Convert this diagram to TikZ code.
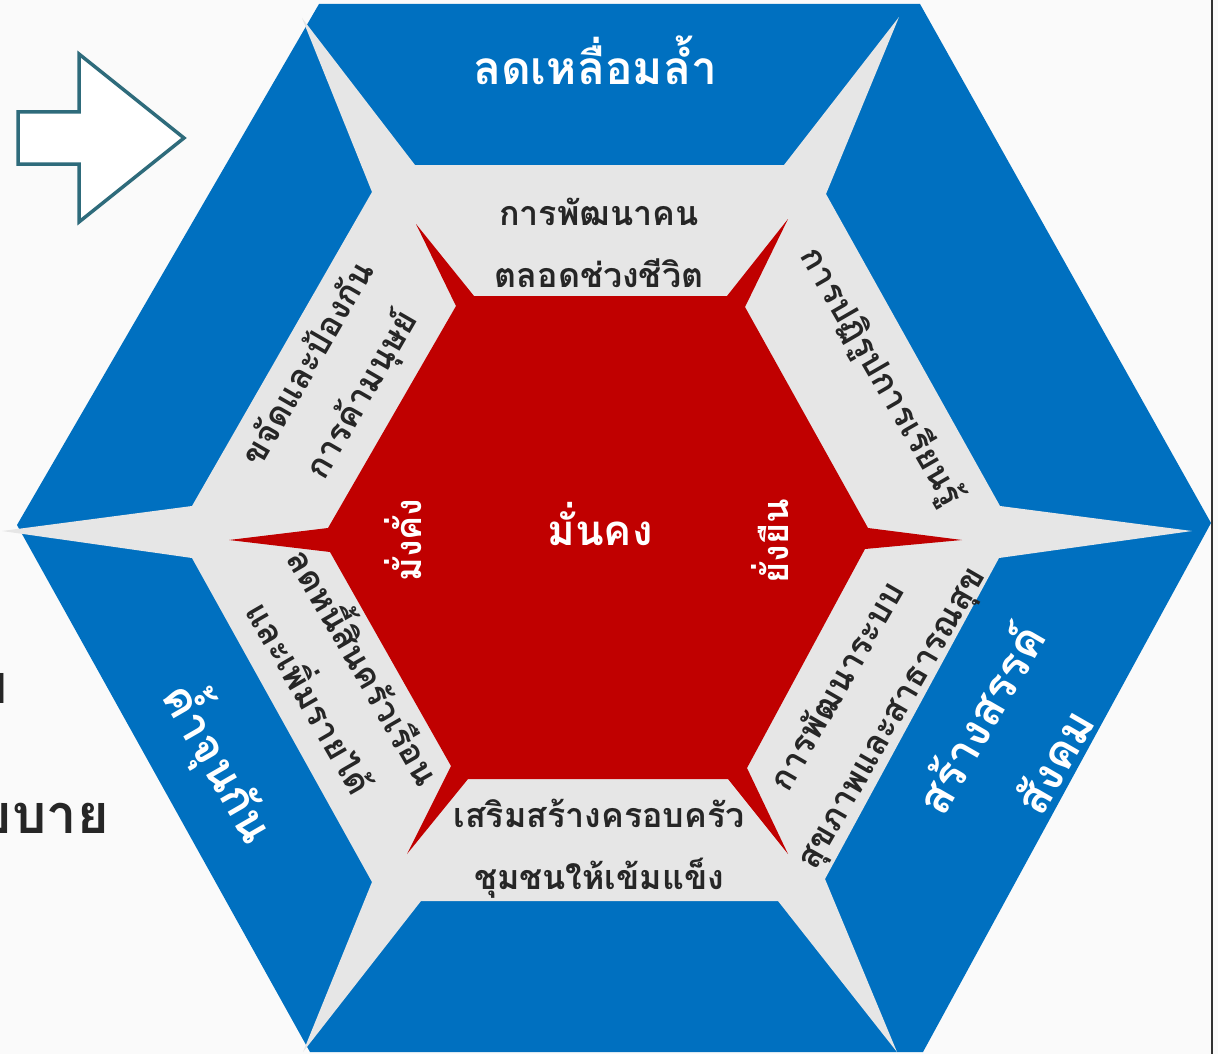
\documentclass[tikz,border=0pt]{standalone}
\usepackage{fontspec}
\newfontfamily\thai[Script=Thai]{Loma}
\definecolor{hexblue}{HTML}{0070C0}
\definecolor{hexgray}{HTML}{E6E6E6}
\definecolor{hexred}{HTML}{C00000}
\definecolor{txtdark}{HTML}{262626}
\definecolor{arrowteal}{HTML}{2E6B7B}
\definecolor{bgwhite}{HTML}{FAFAFA}
\begin{document}
\begin{tikzpicture}[x=1pt,y=-1pt,
  whitetxt/.style={text=white, font=\thai\bfseries\fontsize{46}{85}\selectfont, inner sep=0pt, align=center},
  redtxt/.style={text=white, font=\thai\bfseries\fontsize{36}{60}\selectfont, inner sep=0pt, align=center},
  darktxt/.style={text=txtdark, font=\thai\bfseries\fontsize{34}{62}\selectfont, inner sep=0pt, align=center},
  sidetxt/.style={text=txtdark, font=\thai\bfseries\fontsize{54}{60}\selectfont, inner sep=0pt}]
\useasboundingbox (0,0) rectangle (1218,1054);
\clip (0,0) rectangle (1218,1054);
\fill[bgwhite] (0,0) rectangle (1218,1054);
% left fragments of cut-off text
\node[sidetxt, anchor=east] (frag1) at (8,688) {บ};
\node[sidetxt, anchor=east] (frag2) at (109,813) {นโยบาย};
% outer blue hexagon
\fill[hexblue] (319,4) -- (920,4) -- (1211,523) -- (923,1052) -- (310,1052) -- (17,525) -- cycle;
% grey star ring
\fill[hexgray] (415,165) -- (784,165) -- (899,17) -- (826,194) -- (1000,506) -- (1192,531)
  -- (999,558) -- (825,879) -- (897,1052) -- (778,901) -- (421,901) -- (303,1052)
  -- (372,882) -- (192,558) -- (2,531) -- (192,506) -- (372,192) -- (302,18) -- cycle;
% red star core
\fill[hexred] (474,296) -- (727,296) -- (788,219) -- (745,307) -- (868,528) -- (962,540)
  -- (865,549) -- (747,768) -- (788,854) -- (728,779) -- (468,779) -- (407,854)
  -- (451,766) -- (330,552) -- (229,540) -- (328,528) -- (456,306) -- (416,224) -- cycle;
% arrow
\draw[arrowteal, line width=3.5pt, fill=white, line join=miter]
  (18,112) -- (79,112) -- (79,54) -- (184,138) -- (79,222) -- (79,164) -- (18,164) -- cycle;
% right border line
\draw[black!80, line width=1.5pt] (1212,0) -- (1212,1054);
% blue texts
\node[whitetxt] (b1) at (595,60) {ลดเหลื่อมล้ำ};
\node[whitetxt, rotate=-60] (b5) at (220,762) {ค้ำจุนกัน};
\node[whitetxt, rotate=60] (b3) at (1015,739) {สร้างสรรค์\\สังคม};
% grey texts
\node[darktxt] (g1) at (599,243) {การพัฒนาคน\\ตลอดช่วงชีวิต};
\node[darktxt, rotate=-60] (g2) at (881,377) {การปฏิรูปการเรียนรู้};
\node[darktxt, rotate=60] (g3) at (866,703) {การพัฒนาระบบ\\สุขภาพและสาธารณสุข};
\node[darktxt] (g4) at (599,849) {เสริมสร้างครอบครัว\\ชุมชนให้เข้มแข็ง};
\node[darktxt, rotate=-60] (g5) at (341,680) {ลดหนี้สินครัวเรือน\\และเพิ่มรายได้};
\node[darktxt, rotate=60] (g6) at (336,380) {ขจัดและป้องกัน\\การค้ามนุษย์};
% red texts
\node[redtxt, font=\thai\bfseries\fontsize{42}{60}\selectfont] (r0) at (600,524) {มั่นคง};
\node[redtxt, rotate=90] (r1) at (403,540) {มั่งคั่ง};
\node[redtxt, rotate=90] (r2) at (770,541) {ยั่งยืน};
\end{tikzpicture}
\end{document}
